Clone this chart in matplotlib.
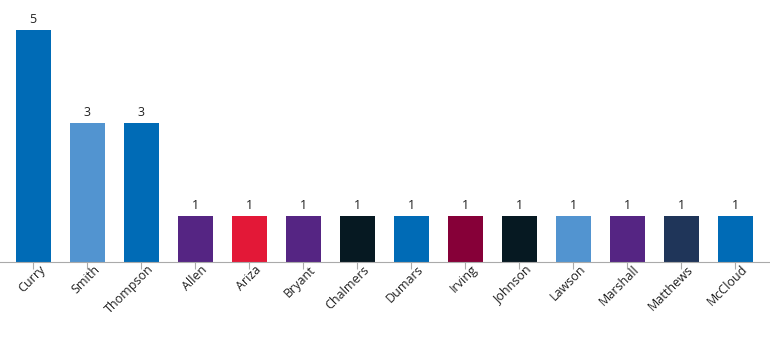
import matplotlib
matplotlib.use("Agg")
import matplotlib.pyplot as plt
import matplotlib.transforms as mtransforms

players = ["Curry", "Smith", "Thompson", "Allen", "Ariza", "Bryant", "Chalmers",
           "Dumars", "Irving", "Johnson", "Lawson", "Marshall", "Matthews", "McCloud"]
counts = [5, 3, 3, 1, 1, 1, 1, 1, 1, 1, 1, 1, 1, 1]
colors = ["#006BB6", "#5294D0", "#006BB6", "#552583", "#E31837", "#552583", "#061922",
          "#006BB6", "#860038", "#061922", "#5294D0", "#552583", "#1F3559", "#006BB6"]

plt.rcParams['font.family'] = ['Open Sans', 'DejaVu Sans']

fig = plt.figure(figsize=(7.7, 3.53), dpi=100)
ax = fig.add_axes([0, 91 / 353, 1, 262 / 353])

x = list(range(len(players)))
bars = ax.bar(x, counts, width=35 / 54, color=colors)
for b, v in zip(bars, counts):
    ax.text(b.get_x() + b.get_width() / 2, v + 0.08, str(v), ha="center", va="bottom",
            fontsize=9, color="#222222")

ax.set_xlim(-33 / 54, (770 - 33) / 54)
ax.set_ylim(0, 262 / 46.4)
ax.set_xticks(x)
ax.set_xticklabels([])

# rotated labels, end of baseline a little right of and below each tick
lbl_tr = ax.get_xaxis_transform() + mtransforms.ScaledTranslation(
    13 / 100, -8 / 100, fig.dpi_scale_trans)
for i, name in zip(x, players):
    ax.text(i, 0, name, transform=lbl_tr, rotation=45, ha="right", va="baseline",
            rotation_mode="anchor", fontsize=9, color="#222222")

ax.set_yticks([])
for s in ["top", "right", "left"]:
    ax.spines[s].set_visible(False)
ax.spines["bottom"].set_color("#aaaaaa")
ax.tick_params(axis="x", length=5, color="#aaaaaa")

fig.savefig("out.png", dpi=100)
